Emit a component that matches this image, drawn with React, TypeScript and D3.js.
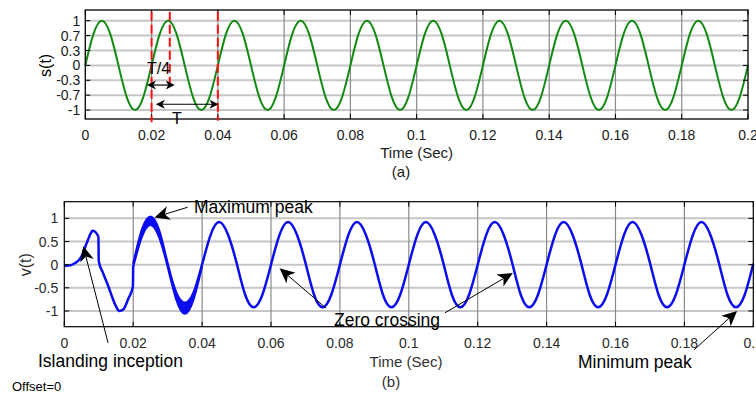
import React from "react";
import * as d3 from "d3";

// ---------- data ----------
const xTickValues = [0, 0.02, 0.04, 0.06, 0.08, 0.1, 0.12, 0.14, 0.16, 0.18, 0.2];
const xTickLabels = ["0", "0.02", "0.04", "0.06", "0.08", "0.1", "0.12", "0.14", "0.16", "0.18", "0.2"];
const sTickValues = [-1, -2 / 3, -1 / 3, 0, 1 / 3, 2 / 3, 1];
const sTickLabels = ["-1", "-0.7", "-0.3", "0", "0.3", "0.7", "1"];
const vTickValues = [-1, -0.5, 0, 0.5, 1];
const vTickLabels = ["-1", "-0.5", "0", "0.5", "1"];

// s(t): samples every 1/8 period (0.0025 s)
const sTimes = d3.range(81).map((i) => i * 0.0025);
const sValues = [
  0, 0.71, 1, 0.71, 0, -0.71, -1, -0.71,
  0, 0.71, 1, 0.71, 0, -0.71, -1, -0.71,
  0, 0.71, 1, 0.71, 0, -0.71, -1, -0.71,
  0, 0.71, 1, 0.71, 0, -0.71, -1, -0.71,
  0, 0.71, 1, 0.71, 0, -0.71, -1, -0.71,
  0, 0.71, 1, 0.71, 0, -0.71, -1, -0.71,
  0, 0.71, 1, 0.71, 0, -0.71, -1, -0.71,
  0, 0.71, 1, 0.71, 0, -0.71, -1, -0.71,
  0, 0.71, 1, 0.71, 0, -0.71, -1, -0.71,
  0, 0.71, 1, 0.71, 0, -0.71, -1, -0.71,
  0,
];

// v(t) before the oscillating cycle
const vEarlyTimes = [0, 0.002, 0.003, 0.004, 0.005, 0.006, 0.007, 0.0077, 0.0082, 0.0088, 0.0095, 0.0099, 0.01, 0.0113, 0.0127, 0.014, 0.015, 0.016, 0.0171, 0.0186, 0.0199, 0.02];
const vEarlyValues = [-0.03, -0.01, 0.03, 0.08, 0.18, 0.37, 0.56, 0.68, 0.73, 0.72, 0.66, 0.6, 0.08, -0.19, -0.45, -0.72, -0.9, -1.0, -0.97, -0.73, -0.48, -0.02];

// v(t) thick (rippling) cycle between 0.02 and 0.04: upper and lower envelope
const vBandTimes = [0.02, 0.0225, 0.025, 0.0275, 0.03, 0.0325, 0.035, 0.0375, 0.04];
const vBandUpper = [0.02, 0.75, 1.04, 0.75, 0.03, -0.6, -0.82, -0.6, 0.02];
const vBandLower = [-0.04, 0.6, 0.86, 0.6, -0.04, -0.75, -1.06, -0.75, -0.03];

// v(t) steady state, samples every 0.0025 s from 0.04 s
const vLateTimes = d3.range(65).map((i) => 0.04 + i * 0.0025);
const vLateValues = [
  0, 0.65, 0.92, 0.65, 0.04, -0.65, -0.92, -0.65,
  0, 0.65, 0.92, 0.65, 0.04, -0.65, -0.92, -0.65,
  0, 0.65, 0.92, 0.65, 0.04, -0.65, -0.92, -0.65,
  0, 0.65, 0.92, 0.65, 0.04, -0.65, -0.92, -0.65,
  0, 0.65, 0.92, 0.65, 0.04, -0.65, -0.92, -0.65,
  0, 0.65, 0.92, 0.65, 0.04, -0.65, -0.92, -0.65,
  0, 0.65, 0.92, 0.65, 0.04, -0.65, -0.92, -0.65,
  0, 0.65, 0.92, 0.65, 0.04, -0.65, -0.92, -0.65,
  0.02,
];

// red dashed markers in (a): [time, top value, bottom value]
const markerTimes = [0.02, 0.0255, 0.04];
const markerBottoms = [-1.27, -0.52, -1.24];

// ---------- layout ----------
const W = 756;
const H = 396;
const topBox = { left: 85.3, right: 748, top: 10, bottom: 119 };
const botBox = { left: 64.3, right: 753.3, top: 201.7, bottom: 326.7 };

const xA = d3.scaleLinear().domain([0, 0.2]).range([topBox.left, topBox.right]);
const yA = d3.scaleLinear().domain([-1.2, 1.24]).range([topBox.bottom, topBox.top]);
const xB = d3.scaleLinear().domain([0, 0.2]).range([botBox.left, botBox.right]);
const yB = d3.scaleLinear().domain([-1.34, 1.36]).range([botBox.bottom, botBox.top]);

function arrowHead(x1: number, y1: number, x2: number, y2: number, L: number, hw: number) {
  const dx = x2 - x1, dy = y2 - y1;
  const len = Math.hypot(dx, dy);
  const ux = dx / len, uy = dy / len;
  const nx = -uy, ny = ux;
  const bx = x2 - L * ux, by = y2 - L * uy;
  const mx = x2 - 0.72 * L * ux, my = y2 - 0.72 * L * uy;
  return {
    points: `${x2},${y2} ${bx + hw * nx},${by + hw * ny} ${mx},${my} ${bx - hw * nx},${by - hw * ny}`,
    mx,
    my,
  };
}

function Arrow({ x1, y1, x2, y2, L, hw, sw }: any) {
  const h = arrowHead(x1, y1, x2, y2, L, hw);
  return (
    <g>
      <line x1={x1} y1={y1} x2={h.mx} y2={h.my} stroke="#000" strokeWidth={sw} />
      <polygon points={h.points} fill="#000" />
    </g>
  );
}

function DoubleArrow({ x1, x2, y, L, hw }: any) {
  const a = arrowHead(x2, y, x1, y, L, hw);
  const b = arrowHead(x1, y, x2, y, L, hw);
  return (
    <g>
      <line x1={a.mx} y1={y} x2={b.mx} y2={y} stroke="#000" strokeWidth={1.2} />
      <polygon points={a.points} fill="#000" />
      <polygon points={b.points} fill="#000" />
    </g>
  );
}

// annotations of (b) in data coordinates: tail -> tip
const vArrows = [
  { tail: [0.0127, -1.69], tip: [0.0055, 0.4] },
  { tail: [0.0358, 1.24], tip: [0.0262, 1.02] },
  { tail: [0.076, -0.94], tip: [0.0625, -0.08] },
  { tail: [0.1105, -1.04], tip: [0.1302, -0.18] },
  { tail: [0.1828, -1.84], tip: [0.1953, -1.0] },
];

export default function App() {
  const lineS = d3
    .line<number>()
    .x((_, i) => xA(sTimes[i]))
    .y((d) => yA(d))
    .curve(d3.curveNatural)(sValues) as string;

  const lineEarly = d3
    .line<number>()
    .x((_, i) => xB(vEarlyTimes[i]))
    .y((d) => yB(d))
    .curve(d3.curveMonotoneX)(vEarlyValues) as string;

  const bandArea = d3
    .area<number>()
    .x((_, i) => xB(vBandTimes[i]))
    .y0((_, i) => yB(vBandLower[i]))
    .y1((d) => yB(d))
    .curve(d3.curveNatural)(vBandUpper) as string;
  const bandUp = d3
    .line<number>()
    .x((_, i) => xB(vBandTimes[i]))
    .y((d) => yB(d))
    .curve(d3.curveNatural)(vBandUpper) as string;
  const bandLo = d3
    .line<number>()
    .x((_, i) => xB(vBandTimes[i]))
    .y((d) => yB(d))
    .curve(d3.curveNatural)(vBandLower) as string;

  const lineLate = d3
    .line<number>()
    .x((_, i) => xB(vLateTimes[i]))
    .y((d) => yB(d))
    .curve(d3.curveNatural)(vLateValues) as string;

  const font = "'Liberation Sans', Arial, Helvetica, sans-serif";
  const blue = "#0c0cf0";

  return (
    <svg
      width={W}
      height={H}
      viewBox={`0 0 ${W} ${H}`}
      style={{ position: "absolute", left: 0, top: 0, background: "#fff" }}
      fontFamily={font}
    >
      <rect x={0} y={0} width={W} height={H} fill="#fff" />

      {/* ================= (a) ================= */}
      <g>
        {sTickValues.map((v, i) => (
          <line key={"ha" + i} x1={topBox.left} x2={topBox.right} y1={yA(v)} y2={yA(v)} stroke="#c6c6c6" strokeWidth={2} />
        ))}
        {xTickValues.slice(1, -1).map((t, i) => (
          <line key={"va" + i} x1={xA(t)} x2={xA(t)} y1={topBox.top} y2={topBox.bottom} stroke="#8a8a8a" strokeWidth={1.2} />
        ))}
        <path d={lineS} fill="none" stroke="#128a12" strokeWidth={2} />
        <rect x={topBox.left} y={topBox.top} width={topBox.right - topBox.left} height={topBox.bottom - topBox.top} fill="none" stroke="#000" strokeWidth={1.3} />
        {sTickValues.map((v, i) => (
          <g key={"ta" + i}>
            <line x1={topBox.left} x2={topBox.left + 5} y1={yA(v)} y2={yA(v)} stroke="#000" />
            <line x1={topBox.right} x2={topBox.right - 5} y1={yA(v)} y2={yA(v)} stroke="#000" />
            <text x={topBox.left - 5} y={yA(v) + 5} fontSize={14} textAnchor="end" fill="#1a1a1a">
              {sTickLabels[i]}
            </text>
          </g>
        ))}
        {xTickValues.map((t, i) => (
          <g key={"xa" + i}>
            <line x1={xA(t)} x2={xA(t)} y1={topBox.bottom} y2={topBox.bottom - 5} stroke="#000" />
            <line x1={xA(t)} x2={xA(t)} y1={topBox.top} y2={topBox.top + 5} stroke="#000" />
            <text x={xA(t)} y={140} fontSize={14} textAnchor="middle" fill="#1a1a1a">
              {xTickLabels[i]}
            </text>
          </g>
        ))}
        {markerTimes.map((t, i) => (
          <line key={"m" + i} x1={xA(t)} x2={xA(t)} y1={yA(1.2)} y2={yA(markerBottoms[i])} stroke="#ff1010" strokeWidth={2} strokeDasharray="9,4" />
        ))}
        <DoubleArrow x1={xA(0.0186)} x2={xA(0.027)} y={yA(-0.44)} L={9} hw={4.5} />
        <DoubleArrow x1={xA(0.0213)} x2={xA(0.0402)} y={yA(-0.87)} L={9} hw={4.5} />
        <text x={158.5} y={74} fontSize={16} textAnchor="middle" fill="#000">T/4</text>
        <text x={177} y={124} fontSize={16} textAnchor="middle" fill="#000">T</text>
        <text x={0} y={0} fontSize={16} textAnchor="middle" fill="#000" transform={`translate(51,${yA(0)}) rotate(-90)`}>
          s(t)
        </text>
        <text x={(topBox.left + topBox.right) / 2} y={158} fontSize={15} textAnchor="middle" fill="#1a1a1a">Time (Sec)</text>
        <text x={401} y={177} fontSize={15} textAnchor="middle" fill="#1a1a1a">(a)</text>
      </g>

      {/* ================= (b) ================= */}
      <g>
        {vTickValues.map((v, i) => (
          <line key={"hb" + i} x1={botBox.left} x2={botBox.right} y1={yB(v)} y2={yB(v)} stroke="#c6c6c6" strokeWidth={2} />
        ))}
        {xTickValues.slice(1, -1).map((t, i) => (
          <line key={"vb" + i} x1={xB(t)} x2={xB(t)} y1={botBox.top} y2={botBox.bottom} stroke="#8a8a8a" strokeWidth={1.2} />
        ))}
        <path d={lineEarly} fill="none" stroke={blue} strokeWidth={2.5} strokeLinejoin="round" />
        <path d={bandArea} fill={blue} stroke="none" />
        <path d={bandUp} fill="none" stroke={blue} strokeWidth={2.2} />
        <path d={bandLo} fill="none" stroke={blue} strokeWidth={2.2} />
        <path d={lineLate} fill="none" stroke={blue} strokeWidth={2.5} />
        <rect x={botBox.left} y={botBox.top} width={botBox.right - botBox.left} height={botBox.bottom - botBox.top} fill="none" stroke="#000" strokeWidth={1.2} />
        {vTickValues.map((v, i) => (
          <g key={"tb" + i}>
            <line x1={botBox.left} x2={botBox.left + 5} y1={yB(v)} y2={yB(v)} stroke="#000" />
            <line x1={botBox.right} x2={botBox.right - 5} y1={yB(v)} y2={yB(v)} stroke="#000" />
            <text x={botBox.left - 6} y={yB(v) + 5} fontSize={14} textAnchor="end" fill="#2a2a2a">
              {vTickLabels[i]}
            </text>
          </g>
        ))}
        {xTickValues.map((t, i) => (
          <g key={"xb" + i}>
            <line x1={xB(t)} x2={xB(t)} y1={botBox.bottom} y2={botBox.bottom - 5} stroke="#000" />
            <line x1={xB(t)} x2={xB(t)} y1={botBox.top} y2={botBox.top + 5} stroke="#000" />
            <text x={xB(t)} y={348} fontSize={14} textAnchor="middle" fill="#2a2a2a">
              {xTickLabels[i]}
            </text>
          </g>
        ))}
        {vArrows.map((a, i) => (
          <Arrow key={"ar" + i} x1={xB(a.tail[0])} y1={yB(a.tail[1])} x2={xB(a.tip[0])} y2={yB(a.tip[1])} L={15} hw={7} sw={1} />
        ))}
        <text x={194} y={213} fontSize={17.5} fill="#000">Maximum peak</text>
        <text x={38} y={367} fontSize={17.5} fill="#000">Islanding inception</text>
        <text x={334} y={326} fontSize={17.5} fill="#000">Zero crossing</text>
        <text x={578} y={368} fontSize={17.5} fill="#000">Minimum peak</text>
        <text x={0} y={0} fontSize={16} textAnchor="middle" fill="#2a2a2a" transform={`translate(31,${yB(0)}) rotate(-90)`}>
          v(t)
        </text>
        <text x={406} y={367} fontSize={15} textAnchor="middle" fill="#333">Time (Sec)</text>
        <text x={391} y={387} fontSize={15} textAnchor="middle" fill="#333">(b)</text>
        <text x={12} y={391} fontSize={13} fill="#000">Offset=0</text>
      </g>
    </svg>
  );
}
